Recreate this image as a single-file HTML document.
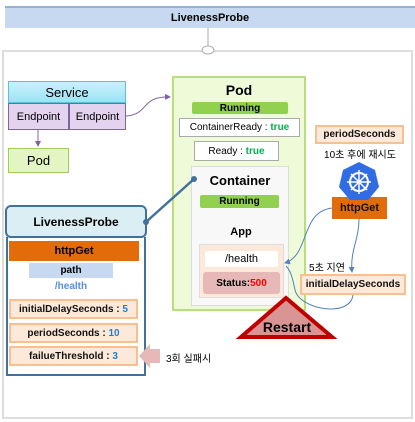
<!DOCTYPE html>
<html><head><meta charset="utf-8"><style>
body{margin:0;width:415px;height:422px;position:relative;background:#fff;font-family:"Liberation Sans","Noto Sans CJK KR",sans-serif;overflow:hidden}
.a{position:absolute;box-sizing:border-box;display:flex;align-items:center;justify-content:center;white-space:nowrap}
.b{font-weight:bold}
.pe{background:#fde9d9;border:2px solid #f9bf8f;font-size:10px;font-weight:bold;color:#111}
.n{color:#1f7fc9}
.g{color:#00b050;font-weight:bold}
</style></head><body>
<div class="a b" style="left:5px;top:6px;width:410px;height:22px;background:#c6d9f0;border-top:2px solid #95b3d7;font-size:11px">LivenessProbe</div>
<div class="a" style="left:2px;top:50px;width:411px;height:369px;border:2px solid #ddd"></div>
<svg width="415" height="422" style="position:absolute;left:0;top:0">
<line x1="208" y1="28" x2="208" y2="46" stroke="#aaa"/>
<ellipse cx="208" cy="50" rx="6" ry="4" fill="#fff" stroke="#aaa"/>
</svg>
<div class="a" style="left:8px;top:81px;width:118px;height:22px;background:linear-gradient(#c8f2fb,#9de3f5);border:1px solid #5bc0de;font-size:13px">Service</div>
<div class="a" style="left:8px;top:103px;width:61px;height:27px;background:#e3d3ee;border:1px solid #8064a2;font-size:11px">Endpoint</div>
<div class="a" style="left:69px;top:103px;width:57px;height:27px;background:#e3d3ee;border:1px solid #8064a2;font-size:11px">Endpoint</div>
<div class="a" style="left:8px;top:148px;width:61px;height:25px;background:#e4f5c4;border:1px solid #9bcf55;font-size:13px">Pod</div>

<div class="a" style="left:172px;top:76px;width:134px;height:235px;background:#effad9;border:2px solid #b8e07a"></div>
<div class="a b" style="left:172px;top:82px;width:134px;height:16px;font-size:14px">Pod</div>
<div class="a b" style="left:192px;top:102px;width:96px;height:12px;background:#92d050;font-size:10px;border-radius:2px">Running</div>
<div class="a" style="left:179px;top:118px;width:121px;height:19px;background:#fff;border:1px solid #aaa;font-size:10px">ContainerReady :&nbsp;<span class="g">true</span></div>
<div class="a" style="left:194px;top:141px;width:85px;height:20px;background:#fff;border:1px solid #aaa;font-size:10px">Ready :&nbsp;<span class="g">true</span></div>
<div class="a" style="left:191px;top:166px;width:98px;height:140px;background:#f8f8f8;border:1px solid #ddd"></div>
<div class="a b" style="left:195px;top:172px;width:90px;height:16px;font-size:13px">Container</div>
<div class="a b" style="left:200px;top:195px;width:79px;height:13px;background:#92d050;font-size:10px;border-radius:2px">Running</div>
<div class="a b" style="left:199px;top:225px;width:84px;height:14px;font-size:11px">App</div>
<div class="a" style="left:199px;top:244px;width:85px;height:54px;background:#fde9d9;border:1px solid #ddd"></div>
<div class="a" style="left:205px;top:251px;width:73px;height:16px;background:#fff;font-size:11px;border-radius:2px">/health</div>
<div class="a b" style="left:203px;top:272px;width:77px;height:22px;background:#e6b8b7;font-size:10px;border-radius:3px">Status:<span style="color:#f00">500</span></div>

<div class="a pe" style="left:315px;top:125px;width:89px;height:19px">periodSeconds</div>
<div class="a" style="left:305px;top:146px;width:110px;height:14px;font-size:10px">10초 후에 재시도</div>
<div class="a b" style="left:332px;top:197px;width:55px;height:22px;background:#e36c0a;font-size:11px;color:#111">httpGet</div>
<div class="a" style="left:302px;top:259px;width:50px;height:14px;font-size:10px">5초 지연</div>
<div class="a pe" style="left:300px;top:274px;width:106px;height:21px">initialDelaySeconds</div>

<div class="a b" style="left:5px;top:205px;width:142px;height:33px;background:#dbeef4;border:2px solid #41719c;border-radius:6px;font-size:12px">LivenessProbe</div>
<div class="a" style="left:6px;top:237px;width:140px;height:139px;border:2px solid #41719c;border-top:none"></div>
<div class="a b" style="left:9px;top:241px;width:130px;height:20px;background:#e36c0a;font-size:11px">httpGet</div>
<div class="a b" style="left:29px;top:263px;width:84px;height:15px;background:#c6d9f0;font-size:10px">path</div>
<div class="a b" style="left:29px;top:279px;width:84px;height:15px;color:#558ed5;font-size:10px">/health</div>
<div class="a pe" style="left:9px;top:299px;width:129px;height:20px">initialDelaySeconds :&nbsp;<span class="n">5</span></div>
<div class="a pe" style="left:9px;top:323px;width:129px;height:20px">periodSeconds :&nbsp;<span class="n">10</span></div>
<div class="a pe" style="left:9px;top:346px;width:129px;height:20px">failueThreshold :&nbsp;<span class="n">3</span></div>
<div class="a" style="left:166px;top:350px;width:60px;height:14px;font-size:10px;justify-content:flex-start">3회 실패시</div>

<svg width="415" height="422" style="position:absolute;left:0;top:0">
<defs><marker id="m" markerWidth="6" markerHeight="6" refX="5" refY="3" orient="auto"><path d="M0,0L6,3L0,6z" fill="#4f81bd"/></marker>
<marker id="p" markerWidth="6" markerHeight="6" refX="5" refY="3" orient="auto"><path d="M0,0L6,3L0,6z" fill="#8064a2"/></marker></defs>
<line x1="38" y1="130" x2="38" y2="146" stroke="#8064a2" marker-end="url(#p)"/>
<path d="M126,116 C150,114 140,96 170,97" fill="none" stroke="#8064a2" marker-end="url(#p)"/>
<line x1="146" y1="222" x2="194" y2="179" stroke="#41719c" stroke-width="2.5"/>
<circle cx="194" cy="179" r="3" fill="#41719c"/><circle cx="146" cy="222" r="3" fill="#41719c"/>
<path d="M332,208 C300,212 310,255 285,263" fill="none" stroke="#4f81bd" marker-end="url(#m)"/>
<path d="M359,219 C359,240 350,250 352,272" fill="none" stroke="#4f81bd" marker-end="url(#m)"/>
<path d="M353,295 C350,318 300,310 295,290 C292,275 290,270 286,266" fill="none" stroke="#4f81bd"/>
<polygon points="286,298 241,337 332,337" fill="#d99594" stroke="#c00000" stroke-width="4" stroke-linejoin="miter"/>
<text x="287" y="332" text-anchor="middle" font-family="Liberation Sans" font-weight="bold" font-size="14">Restart</text>
<polygon points="139,356 150,344 150,349 160,349 160,363 150,363 150,368" fill="#e6b8b7"/>
<polygon points="359,162 375,170 379,187 368,200 350,200 339,187 343,170" fill="#326ce5"/>
<circle cx="359" cy="182" r="9" fill="none" stroke="#fff" stroke-width="2"/>
<g stroke="#fff" stroke-width="1.5"><line x1="359" y1="170" x2="359" y2="194"/><line x1="347" y1="182" x2="371" y2="182"/><line x1="351" y1="174" x2="367" y2="190"/><line x1="367" y1="174" x2="351" y2="190"/></g>
</svg>
</body></html>
